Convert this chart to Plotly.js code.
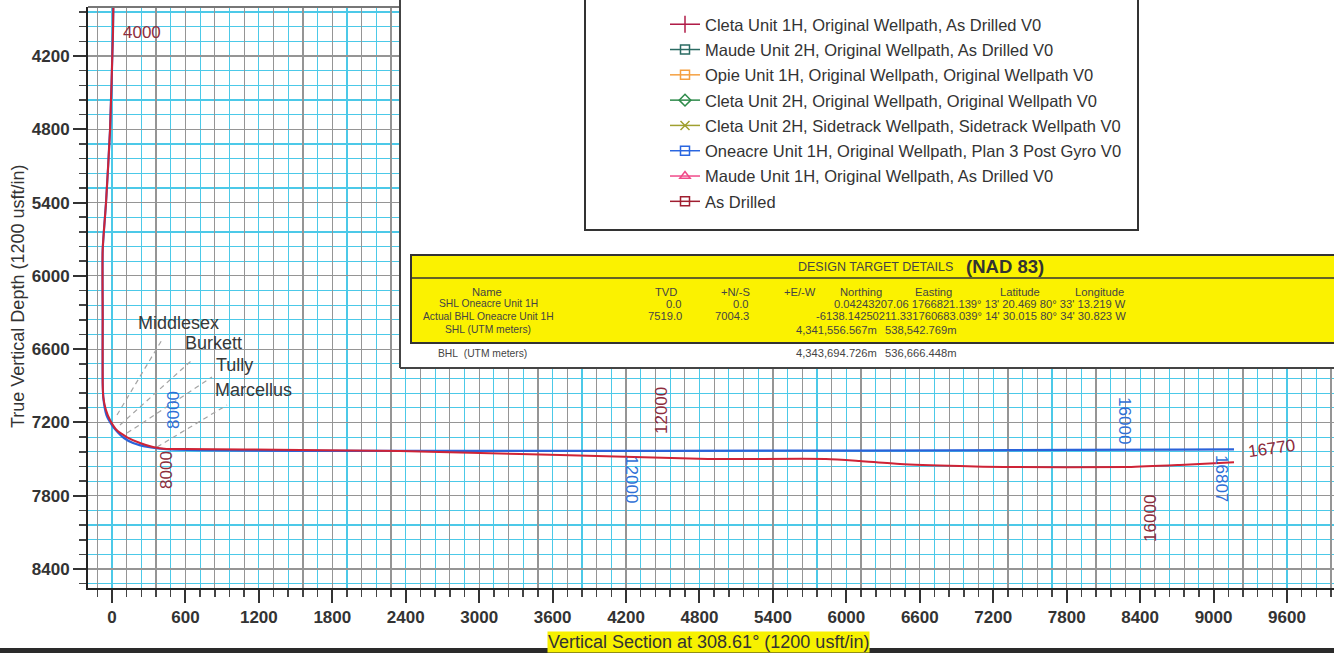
<!DOCTYPE html>
<html><head><meta charset="utf-8">
<script src="https://cdn.plot.ly/plotly-3.0.1.min.js"></script>
<style>html,body{margin:0;padding:0;background:#fff;}#chart{width:1334px;height:653px;}</style>
</head><body><div id="chart"></div>
<script>
// ---------------- data ----------------
// As drilled wellpath (Vertical Section, TVD)
const drilledVS  = [11, 8, -16, -49, -76, -76, -76, -71, -49, -16, 38, 120, 229, 335, 446, 596, 1536, 2353, 3007, 3660, 4265, 4869, 5833, 6111, 6438, 6928, 7288, 8301, 8726, 9167];
const drilledTVD = [3799, 4004, 4806, 5403, 5788, 6337, 6877, 6992, 7098, 7180, 7262, 7319, 7368, 7401, 7417, 7417, 7425, 7434, 7450, 7467, 7483, 7499, 7499, 7516, 7540, 7557, 7565, 7565, 7548, 7525];
// Oneacre Unit 1H plan
const planVS  = [11, 8, -16, -49, -76, -76, -76, -69, -45, 0, 45, 98, 172, 294, 474, 9167];
const planTVD = [3799, 4004, 4806, 5403, 5788, 6337, 6877, 7016, 7139, 7221, 7278, 7327, 7368, 7401, 7421, 7421];

// measured depth labels along the wellpaths
const mdLabelText  = ['4000', '8000', '8000', '12000', '12000', '16000', '16000', '16770', '16807'];
const mdLabelWell  = ['drilled', 'plan', 'drilled', 'drilled', 'plan', 'plan', 'drilled', 'drilled', 'plan'];
const mdLabelVS    = [245, 498, 449, 4494, 4248, 8276, 8480, 9477, 9069];
const mdLabelTVD   = [4004, 7098, 7589, 7106, 7671, 7188, 7982, 7409, 7655];

// formation tops (dashed markers)
const formationNames    = ['Middlesex', 'Burkett', 'Tully', 'Marcellus'];
const formationStartVS  = [41, 65, 123, 368];
const formationStartTVD = [7139, 7221, 7287, 7401];
const formationEndVS    = [417, 654, 817, 940];
const formationEndTVD   = [6509, 6689, 6828, 7057];
const formationLabelVS  = [547, 833, 997, 1160];
const formationLabelTVD = [6386, 6550, 6730, 6935];

// legend entries
const legendNames = [
  'Cleta Unit 1H, Original Wellpath, As Drilled V0',
  'Maude Unit 2H, Original Wellpath, As Drilled V0',
  'Opie Unit 1H, Original Wellpath, Original Wellpath V0',
  'Cleta Unit 2H, Original Wellpath, Original Wellpath V0',
  'Cleta Unit 2H, Sidetrack Wellpath, Sidetrack Wellpath V0',
  'Oneacre Unit 1H, Original Wellpath, Plan 3 Post Gyro V0',
  'Maude Unit 1H, Original Wellpath, As Drilled V0',
  'As Drilled'
];

// design target table
const tableTitle  = 'DESIGN TARGET DETAILS';
const tableDatum  = '(NAD 83)';
const tableHeader = ['Name', 'TVD', '+N/-S', '+E/-W', 'Northing', 'Easting', 'Latitude', 'Longitude'];
const rowNames    = ['SHL Oneacre Unit 1H', 'Actual BHL Oneacre Unit 1H', 'SHL (UTM meters)', 'BHL\u00a0 (UTM meters)'];
const rowTVD      = ['0.0', '7519.0'];
const rowNS       = ['0.0', '7004.3'];
const rowRest     = ["0.04243207.06 1766821.139\u00b0 13' 20.469 80\u00b0 33' 13.219 W",
                     "-6138.14250211.331760683.039\u00b0 14' 30.015 80\u00b0 34' 30.823 W"];
const utmNorthing = ['4,341,556.567m', '4,343,694.726m'];
const utmEasting  = ['538,542.769m', '536,666.448m'];

const xTitle = 'Vertical Section at 308.61\u00b0 (1200 usft/in)';
const yTitle = 'True Vertical Depth (1200 usft/in)';

// ---------------- styles / layout helpers ----------------
const W = 1334, H = 653;
const M = {l: 88, r: 0, t: 7, b: 65};
const PW = W - M.l - M.r, PH = H - M.t - M.b;
const pX = X => (X - M.l) / PW;
const pY = Y => 1 - (Y - M.t) / PH;
const FONT = 'Liberation Sans, Arial, sans-serif';
const RED = '#cf2336', BLUE = '#2b62d9', MAROON = '#8e2c3c', LBLUE = '#2f6fd6';
const CYAN = '#4cc9e8', GRAY = '#959595';
const legendColors  = ['#b01c48', '#2b6b63', '#f5a040', '#2d8a4a', '#a0a030', '#2a66e0', '#f04a8a', '#a01e30'];
const legendSymbols = ['line-ns-open', 'square-open', 'square-open', 'diamond-open', 'x-thin-open', 'square-open', 'triangle-up-open', 'square-open'];
const mdAngles = [0, -90, -90, -90, 90, 90, -90, -8, 90];
const XR = [-196, 9984], YR = [8555, 3799];

const traces = [];
// helper trace so the secondary grid axis exists
traces.push({x: [null], y: [null], xaxis: 'x2', yaxis: 'y', mode: 'lines', showlegend: false, hoverinfo: 'skip'});
formationNames.forEach((n, i) => traces.push({
  x: [formationStartVS[i], formationEndVS[i]], y: [formationStartTVD[i], formationEndTVD[i]],
  mode: 'lines', line: {color: '#a4a4a4', width: 1.2, dash: '5px,4px'}, showlegend: false, hoverinfo: 'skip'
}));
traces.push({x: planVS, y: planTVD, mode: 'lines', line: {color: BLUE, width: 2.2, shape: 'spline', smoothing: 0.6}, showlegend: false, name: 'Plan'});
traces.push({x: drilledVS, y: drilledTVD, mode: 'lines', line: {color: RED, width: 2, shape: 'spline', smoothing: 0.6}, showlegend: false, name: 'Drilled'});
legendNames.forEach((n, i) => traces.push({
  x: [null], y: [null], name: n, mode: 'lines+markers', legendgroup: 'g' + i,
  line: {color: legendColors[i], width: 1.5},
  marker: {symbol: legendSymbols[i], size: legendSymbols[i] === 'line-ns-open' ? 12 : 9, color: legendColors[i], line: {color: legendColors[i], width: 1.5}}
}));

const tickFont = {family: FONT, size: 17, color: '#333', weight: 'bold'};

const shapes = [
  {type: 'line', xref: 'paper', yref: 'paper', x0: 0, x1: pX(400), y0: 1, y1: 1, line: {color: '#777', width: 2}},
  {type: 'rect', xref: 'paper', yref: 'paper', x0: pX(400), x1: pX(1345), y0: pY(368), y1: pY(-5), fillcolor: '#fff', line: {width: 0}, layer: 'above'},
  {type: 'line', xref: 'paper', yref: 'paper', x0: pX(400), x1: pX(400), y0: pY(368), y1: pY(-5), line: {color: '#444', width: 2}, layer: 'above'},
  {type: 'line', xref: 'paper', yref: 'paper', x0: pX(400), x1: pX(1345), y0: pY(368), y1: pY(368), line: {color: '#444', width: 2}, layer: 'above'},
  {type: 'rect', xref: 'paper', yref: 'paper', x0: pX(585), x1: pX(1138), y0: pY(230), y1: pY(-5), fillcolor: '#fff', line: {color: '#333', width: 2}, layer: 'above'},
  {type: 'rect', xref: 'paper', yref: 'paper', x0: pX(411), x1: pX(1345), y0: pY(343), y1: pY(255), fillcolor: '#fbf200', line: {color: '#333', width: 2}, layer: 'above'},
  {type: 'line', xref: 'paper', yref: 'paper', x0: pX(411), x1: pX(1345), y0: pY(278), y1: pY(278), line: {color: '#333', width: 1.5}, layer: 'above'},
  {type: 'rect', xref: 'paper', yref: 'paper', x0: pX(-5), x1: pX(1340), y0: pY(656), y1: pY(648), fillcolor: '#2a2a2a', line: {width: 0}, layer: 'above'}
];

const annotations = [];
const A = (o) => annotations.push(Object.assign({showarrow: false, xref: 'paper', yref: 'paper', borderpad: 0}, o));
A({text: xTitle, x: pX(708), y: pY(642), xanchor: 'center', yanchor: 'middle', bgcolor: '#f7f100', font: {family: FONT, size: 18, color: '#333'}});
A({text: yTitle, x: pX(18), y: pY(297), xanchor: 'center', yanchor: 'middle', textangle: -90, font: {family: FONT, size: 18, color: '#333'}});
mdLabelText.forEach((t, i) => annotations.push({text: t, x: mdLabelVS[i], y: mdLabelTVD[i], xref: 'x', yref: 'y', showarrow: false,
  textangle: mdAngles[i], font: {family: FONT, size: 17, color: mdLabelWell[i] === 'plan' ? LBLUE : MAROON}}));
formationNames.forEach((n, i) => annotations.push({text: n, x: formationLabelVS[i], y: formationLabelTVD[i], xref: 'x', yref: 'y', showarrow: false,
  font: {family: FONT, size: 18, color: '#383838'}}));
// table
const TF = {family: FONT, size: 10.3, color: '#444'};
const NF = {family: FONT, size: 11.2, color: '#444'};
A({text: tableTitle, x: pX(875), y: pY(267), xanchor: 'center', yanchor: 'middle', font: {family: FONT, size: 12.5, color: '#444'}});
A({text: '<b>' + tableDatum + '</b>', x: pX(1005), y: pY(266), xanchor: 'center', yanchor: 'middle', font: {family: FONT, size: 18.5, color: '#333'}});
const hdrX = [487, 666, 735, 800, 861, 933, 1020, 1099];
tableHeader.forEach((h, i) => A({text: h, x: pX(hdrX[i]), y: pY(292), xanchor: 'center', yanchor: 'middle', font: {family: FONT, size: 11.2, color: '#444'}}));
const rowY = [303.5, 316.5, 329.5, 353];
rowNames.forEach((n, i) => A({text: n, x: pX(i === 3 ? 437 : 488), y: pY(rowY[i]), xanchor: i === 3 ? 'left' : 'center', yanchor: 'middle', font: TF}));
rowTVD.forEach((v, i) => A({text: v, x: pX(683), y: pY(rowY[i]), xanchor: 'right', yanchor: 'middle', font: NF}));
rowNS.forEach((v, i) => A({text: v, x: pX(750), y: pY(rowY[i]), xanchor: 'right', yanchor: 'middle', font: NF}));
rowRest.forEach((v, i) => A({text: v, x: pX(1127), y: pY(rowY[i]), xanchor: 'right', yanchor: 'middle', font: NF}));
utmNorthing.forEach((v, i) => A({text: v, x: pX(878), y: pY(rowY[i + 2]), xanchor: 'right', yanchor: 'middle', font: NF}));
utmEasting.forEach((v, i) => A({text: v, x: pX(958), y: pY(rowY[i + 2]), xanchor: 'right', yanchor: 'middle', font: NF}));

const axisBase = {tick0: 0, dtick: 600, tickformat: 'd', ticks: 'outside', ticklen: 13, tickwidth: 2, tickcolor: '#333',
  showline: true, linecolor: '#222', linewidth: 2, showgrid: true, gridwidth: 1.2, zeroline: false,
  tickfont: tickFont, fixedrange: true};
const minorBase = {dtick: 120, tick0: 0, ticks: 'outside', ticklen: 7, tickwidth: 1.5, tickcolor: '#444', showgrid: true, gridcolor: CYAN, gridwidth: 1.2};
const layout = {
  width: W, height: H, margin: M, paper_bgcolor: '#fff', plot_bgcolor: '#fff',
  showlegend: true,
  legend: {x: pX(665), y: pY(7), xanchor: 'left', yanchor: 'top', bgcolor: 'rgba(0,0,0,0)', borderwidth: 0,
    font: {family: FONT, size: 16.5, color: '#333'}, traceorder: 'grouped', tracegroupgap: 0.85},
  xaxis: Object.assign({range: XR, gridcolor: CYAN, minor: minorBase}, axisBase),
  // secondary vertical grid (gray lines every 240 offset by 120)
  xaxis2: {range: XR.slice(), overlaying: 'x', anchor: 'y', side: 'bottom', tickmode: 'linear', tick0: 120, dtick: 240, showgrid: true, gridcolor: GRAY, gridwidth: 1.2,
    showticklabels: false, ticks: '', showline: false, zeroline: false, fixedrange: true},
  yaxis: Object.assign({range: YR, gridcolor: GRAY, minor: minorBase}, axisBase),
  shapes: shapes, annotations: annotations
};
Plotly.newPlot('chart', traces, layout, {displayModeBar: false, staticPlot: true});
</script></body></html>
